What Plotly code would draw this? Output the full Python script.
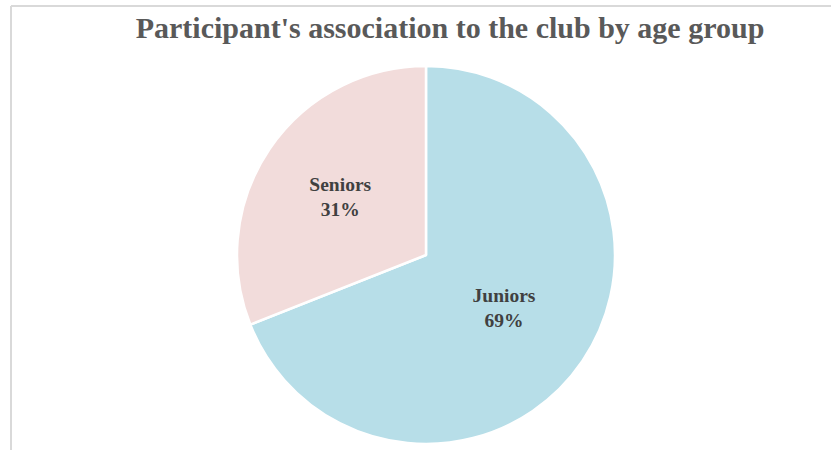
import plotly.graph_objects as go

categories = ["Juniors", "Seniors"]
values = [69, 31]
colors = ["#B7DEE8", "#F2DCDB"]
title_text = "Participant's association to the club by age group"

W, H = 831, 450
cx, cy, r = 426, 255, 189

fig = go.Figure(go.Pie(
    labels=categories,
    values=values,
    sort=False,
    direction="clockwise",
    rotation=0,
    marker=dict(colors=colors, line=dict(color="white", width=2.5)),
    textinfo="label+percent",
    texttemplate="%{label}<br>%{percent:.0%}",
    textposition="inside",
    insidetextorientation="horizontal",
    textfont=dict(family="Liberation Serif", size=19.5, color="#404040", weight="bold"),
    domain=dict(x=[(cx - r) / W, (cx + r) / W], y=[(H - cy - r) / H, (H - cy + r) / H]),
    showlegend=False,
    hoverinfo="label+percent",
))

fig.update_layout(
    width=W, height=H,
    margin=dict(l=0, r=0, t=0, b=0),
    paper_bgcolor="white",
    plot_bgcolor="white",
    title=dict(
        text="<b>" + title_text + "</b>",
        x=450 / W, xanchor="center",
        y=1 - 27 / H, yanchor="middle",
        font=dict(family="Liberation Serif", size=30, color="#595959"),
    ),
    shapes=[
        dict(type="line", xref="paper", yref="paper",
             x0=11 / W, x1=1.01, y0=(H - 6) / H, y1=(H - 6) / H,
             line=dict(color="#D9D9D9", width=2)),
        dict(type="line", xref="paper", yref="paper",
             x0=11 / W, x1=11 / W, y0=-0.01, y1=(H - 6) / H,
             line=dict(color="#D9D9D9", width=2)),
    ],
)

fig.write_html("out.html")
